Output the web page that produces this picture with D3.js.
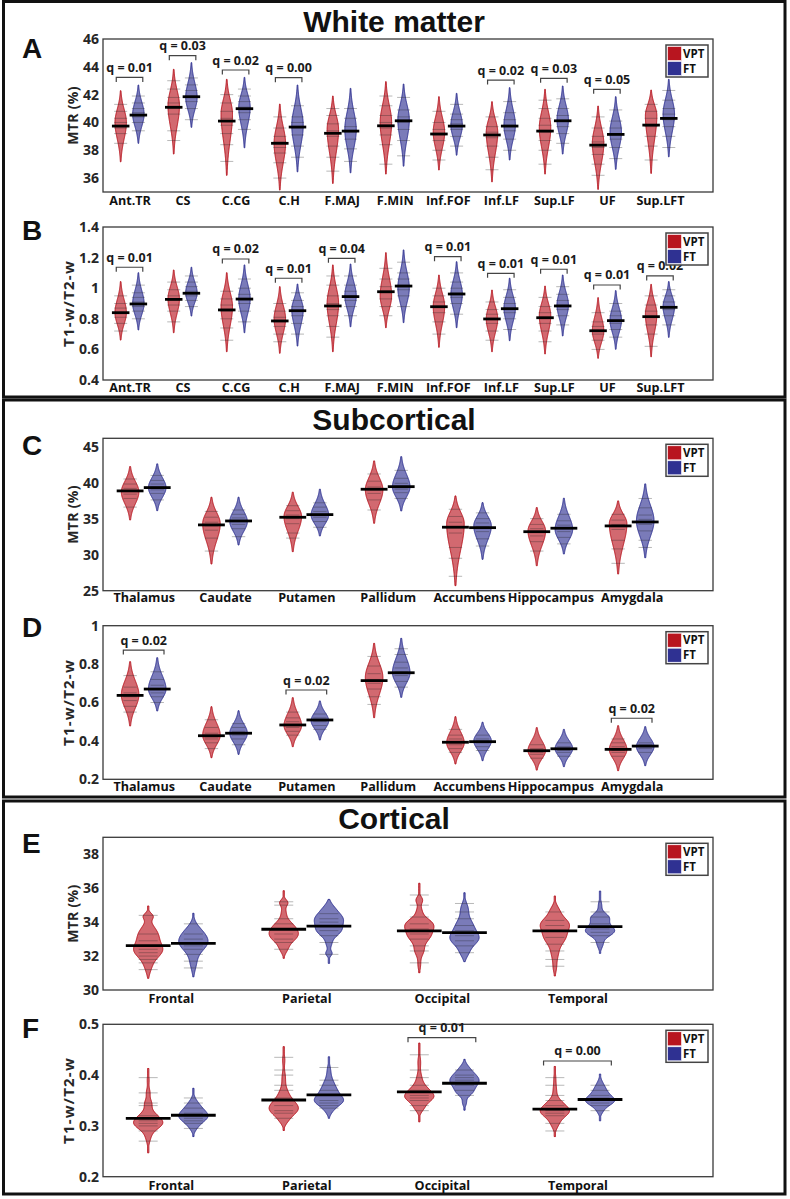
<!DOCTYPE html>
<html><head><meta charset="utf-8">
<script src="https://cdn.jsdelivr.net/npm/d3@7"></script>
<style>body{margin:0;background:#fff}</style>
</head><body>
<svg id="c" width="790" height="1199"></svg>
<script>
// ---------------- DATA ----------------
const wmCategories = ['Ant.TR','CS','C.CG','C.H','F.MAJ','F.MIN','Inf.FOF','Inf.LF','Sup.LF','UF','Sup.LFT'];
const subCategories = ['Thalamus','Caudate','Putamen','Pallidum','Accumbens','Hippocampus','Amygdala'];
const ctxCategories = ['Frontal','Parietal','Occipital','Temporal'];
const groups = ['VPT','FT'];

// Panel A: white matter MTR (%)
const wmMtrVptMean = [39.74,41.09,40.10,38.50,39.22,39.76,39.17,39.10,39.38,38.37,39.81];
const wmMtrFtMean  = [40.53,41.85,40.99,39.67,39.38,40.12,39.74,39.74,40.12,39.14,40.29];
const wmMtrVptRange = [[37.17,40.0,42.28],[37.73,41.2,43.82],[36.2,40.6,43.1],[35.14,38.5,41.32],[35.62,39.5,41.9],[36.29,40.0,42.93],[36.58,39.3,41.85],[35.73,39.3,41.49],[36.29,39.6,42.38],[35.19,38.5,41.18],[36.34,40.5,42.33]];
const wmMtrFtRange  = [[38.5,40.6,42.69],[39.65,41.8,44.3],[38.18,41.1,43.24],[36.45,39.8,42.69],[36.38,39.5,42.45],[36.86,40.2,42.76],[37.65,39.8,42.09],[37.3,39.8,42.5],[37.73,40.2,42.62],[36.63,39.3,41.85],[37.53,40.6,43.1]];
const wmMtrVptBeans = [[38.5,39.2,39.6,40.0,40.3,40.8,41.3],[38.7,39.4,40.6,41.0,41.4,41.8,42.4,43.0],[37.2,38.4,39.2,39.8,40.3,40.8,41.4,42.0],[36.0,37.1,37.8,38.2,38.6,39.0,39.6,40.4],[36.5,37.5,38.3,39.0,39.4,39.9,40.5,41.0],[37.0,38.4,39.1,39.6,40.0,40.5,41.2,41.9],[37.3,38.0,38.7,39.1,39.5,40.0,40.8],[36.6,37.5,38.3,38.9,39.3,39.7,40.4],[37.0,38.0,38.7,39.3,39.8,40.3,41.0,41.6],[36.2,37.0,37.7,38.2,38.6,39.0,39.6,40.4],[37.3,38.3,39.0,39.7,40.3,40.8,41.3]];
const wmMtrFtBeans  = [[39.4,40.0,40.4,40.7,41.0,41.4,41.9],[40.2,41.0,41.5,41.9,42.3,42.7,43.2],[39.5,40.2,40.7,41.1,41.5,41.9,42.4],[37.5,38.3,39.1,39.6,40.0,40.4,41.2],[37.2,38.1,38.8,39.3,39.7,40.3,41.0],[37.6,38.7,39.5,40.0,40.4,40.9,41.8],[38.3,39.0,39.5,39.9,40.2,40.6,41.3],[38.0,38.8,39.4,39.8,40.2,40.7,41.5],[38.5,39.2,39.7,40.1,40.5,41.0,41.7],[37.4,38.2,38.8,39.2,39.6,40.1,40.9],[38.2,39.0,39.7,40.2,40.6,41.0,41.6,42.3]];
const wmMtrQ      = ['0.01','0.03','0.02','0.00',null,null,null,'0.02','0.03','0.05',null];
const wmMtrQLevel = [43.24,44.8,43.77,43.22,null,null,null,43.05,43.17,42.38,null];

// Panel B: white matter T1-w/T2-w
const wmT1VptMean = [0.84,0.927,0.858,0.786,0.884,0.977,0.879,0.799,0.807,0.722,0.814];
const wmT1FtMean  = [0.897,0.967,0.929,0.853,0.945,1.014,0.962,0.866,0.884,0.788,0.875];
const wmT1VptRange = [[0.661,0.84,1.043],[0.709,0.93,1.119],[0.585,0.88,1.101],[0.575,0.8,1.01],[0.585,0.9,1.152],[0.742,0.95,1.232],[0.614,0.88,1.086],[0.585,0.8,0.988],[0.57,0.82,1.014],[0.542,0.72,0.938],[0.552,0.83,1.025]];
const wmT1FtRange  = [[0.727,0.9,1.101],[0.818,0.97,1.137],[0.709,0.93,1.152],[0.622,0.86,1.027],[0.748,0.95,1.158],[0.775,1.0,1.25],[0.742,0.96,1.173],[0.657,0.87,1.065],[0.688,0.89,1.086],[0.601,0.79,0.984],[0.679,0.88,1.043]];
const wmT1VptBeans = [[0.72,0.77,0.81,0.84,0.87,0.9,0.95],[0.78,0.85,0.89,0.92,0.95,0.99,1.04],[0.66,0.74,0.8,0.85,0.89,0.93,0.98],[0.65,0.7,0.75,0.78,0.81,0.85,0.9],[0.68,0.75,0.82,0.86,0.9,0.95,1.02,1.08],[0.82,0.88,0.93,0.97,1.01,1.06,1.13],[0.7,0.78,0.84,0.88,0.91,0.95,1.0],[0.66,0.72,0.77,0.8,0.83,0.86,0.91],[0.65,0.72,0.77,0.81,0.84,0.88,0.94],[0.6,0.66,0.7,0.72,0.75,0.78,0.84],[0.62,0.7,0.76,0.81,0.85,0.89,0.95]];
const wmT1FtBeans  = [[0.8,0.85,0.88,0.91,0.94,0.97,1.02],[0.88,0.92,0.95,0.98,1.01,1.04,1.08],[0.78,0.85,0.9,0.93,0.96,1.0,1.06],[0.7,0.77,0.82,0.85,0.88,0.92,0.97],[0.82,0.88,0.92,0.95,0.98,1.02,1.08],[0.88,0.95,0.99,1.02,1.06,1.1,1.17],[0.83,0.9,0.94,0.97,1.0,1.04,1.1],[0.73,0.8,0.84,0.87,0.9,0.94,0.99],[0.76,0.82,0.86,0.89,0.92,0.96,1.01],[0.68,0.73,0.77,0.79,0.82,0.85,0.9],[0.76,0.82,0.86,0.88,0.91,0.95,0.99]];
const wmT1Q      = ['0.01',null,'0.02','0.01','0.04',null,'0.01','0.01','0.01','0.01','0.02'];
const wmT1QLevel = [1.137,null,1.191,1.065,1.195,null,1.206,1.097,1.124,1.021,1.08];

// Panel C: subcortical MTR (%)
const subMtrVptMean = [38.85,34.13,35.19,39.08,33.81,33.19,33.99];
const subMtrFtMean  = [39.31,34.68,35.56,39.44,33.75,33.67,34.54];
const subMtrVptRange = [[34.82,38.7,42.22],[28.71,34.3,37.97],[30.42,35.3,38.67],[34.36,39.0,43.01],[25.7,34.3,38.15],[28.47,33.3,36.53],[27.32,34.3,37.46]];
const subMtrFtRange  = [[36.11,39.3,42.6],[31.35,34.6,37.97],[32.6,35.5,39.08],[36.07,39.4,43.6],[29.36,34.0,37.22],[30.1,33.5,37.83],[29.58,34.7,39.82]];
const subMtrVptBeans = [[36.6,37.8,38.4,38.8,39.2,39.8,40.5],[30.5,32.3,33.4,34.0,34.5,35.2,36.0],[32.3,33.0,34.3,35.0,35.5,36.1,36.8],[36.2,37.6,38.5,39.0,39.4,40.2,41.2],[27.0,29.5,31.0,33.0,33.8,34.5,35.3,36.3],[30.5,31.8,32.6,33.2,33.6,34.2,35.0],[28.8,30.8,32.0,33.5,34.2,34.8,35.6]];
const subMtrFtBeans  = [[37.6,38.5,39.0,39.4,39.8,40.3,41.0],[32.5,33.6,34.2,34.7,35.1,35.6,36.2],[33.8,34.6,35.2,35.6,36.0,36.6,37.2],[37.8,38.6,39.1,39.5,39.9,40.6,41.7],[31.2,32.2,33.2,33.9,34.4,35.0,35.8],[31.5,32.4,33.2,33.7,34.1,34.7,35.6],[31.0,32.0,33.3,34.2,34.9,35.5,36.5,37.8]];

// Panel D: subcortical T1-w/T2-w
const subT1VptMean = [0.637,0.427,0.483,0.714,0.393,0.349,0.356];
const subT1FtMean  = [0.67,0.44,0.509,0.755,0.396,0.359,0.373];
const subT1VptRange = [[0.478,0.64,0.8125],[0.3125,0.43,0.578],[0.37,0.48,0.625],[0.521,0.73,0.908],[0.28,0.39,0.526],[0.248,0.35,0.469],[0.245,0.355,0.479]];
const subT1FtRange  = [[0.556,0.67,0.833],[0.33,0.44,0.557],[0.405,0.505,0.608],[0.627,0.755,0.934],[0.297,0.4,0.497],[0.266,0.36,0.46],[0.271,0.37,0.474]];
const subT1VptBeans = [[0.55,0.58,0.61,0.63,0.65,0.68,0.74],[0.36,0.39,0.41,0.42,0.44,0.47,0.51],[0.43,0.45,0.47,0.48,0.5,0.52,0.55],[0.59,0.63,0.67,0.7,0.72,0.75,0.79,0.84],[0.34,0.36,0.38,0.39,0.41,0.43,0.46],[0.31,0.33,0.34,0.35,0.36,0.38],[0.32,0.34,0.35,0.36,0.37,0.39,0.41]];
const subT1FtBeans  = [[0.6,0.63,0.65,0.67,0.69,0.72,0.76],[0.38,0.41,0.43,0.44,0.45,0.47,0.49],[0.46,0.48,0.5,0.51,0.52,0.54],[0.68,0.71,0.74,0.76,0.78,0.81,0.85,0.88],[0.35,0.37,0.39,0.4,0.41,0.43],[0.32,0.34,0.35,0.36,0.37,0.39],[0.34,0.36,0.37,0.38,0.39]];
const subT1Q      = ['0.02',null,'0.02',null,null,null,'0.02'];
const subT1QLevel = [0.873,null,0.665,null,null,null,0.518];

// Panel E: cortical MTR (%)  (shape = density bumps [centre, spread, weight])
const ctxMtrVptMean = [32.61,33.58,33.48,33.48];
const ctxMtrFtMean  = [32.75,33.77,33.38,33.73];
const ctxMtrVptRange = [[30.69,34.95],[31.87,35.85],[31.02,36.29],[30.83,35.54]];
const ctxMtrFtRange  = [[30.78,34.52],[31.57,35.34],[31.67,35.73],[32.16,35.83]];
const ctxMtrVptShape = [
  [[32.35,0.45,1],[33.2,0.4,0.45],[33.6,0.45,0.25],[31.4,0.4,0.2],[34.35,0.18,0.3]],
  [[33.2,0.4,1],[33.8,0.35,0.5],[35.15,0.18,0.3],[34.6,0.3,0.15],[32.4,0.25,0.2]],
  [[33.9,0.35,0.9],[33.2,0.4,0.8],[35.3,0.2,0.25],[32.3,0.3,0.3],[34.7,0.25,0.15],[31.5,0.3,0.1]],
  [[33.9,0.4,1],[33.1,0.4,0.7],[34.7,0.3,0.25],[32.2,0.45,0.25],[31.3,0.3,0.1]]];
const ctxMtrFtShape = [
  [[32.8,0.5,1],[33.5,0.4,0.3],[31.6,0.45,0.2]],
  [[34.2,0.35,0.9],[33.5,0.35,0.8],[34.8,0.3,0.3],[32.15,0.15,0.22],[32.7,0.25,0.15]],
  [[33.0,0.4,1],[33.8,0.45,0.6],[34.8,0.35,0.25],[32.2,0.3,0.25]],
  [[33.45,0.3,1],[34.3,0.25,0.55],[33.9,0.3,0.3],[35.0,0.25,0.12],[32.7,0.25,0.2]]];
const ctxMtrVptBeans = [[31.2,31.6,31.8,32.0,32.2,32.4,32.6,32.9,33.3,34.4],[32.4,32.8,33.0,33.3,33.6,33.9,34.2,35.0,35.2],[31.6,32.3,32.6,33.0,33.3,33.6,33.9,34.3,35.0,35.6],[31.4,31.8,32.3,32.7,33.1,33.5,33.8,34.1,34.6]];
const ctxMtrFtBeans  = [[31.3,31.7,32.1,32.4,32.6,32.8,33.0,33.3,33.9],[32.1,32.8,33.2,33.5,33.8,34.0,34.2,34.5],[32.2,32.6,32.9,33.2,33.5,33.8,34.2,34.6,35.1],[32.8,33.2,33.4,33.6,33.9,34.3,34.6,35.2]];

// Panel F: cortical T1-w/T2-w
const ctxT1VptMean = [0.315,0.351,0.367,0.333];
const ctxT1FtMean  = [0.321,0.361,0.384,0.352];
const ctxT1VptRange = [[0.247,0.413],[0.291,0.456],[0.308,0.463],[0.279,0.417]];
const ctxT1FtRange  = [[0.279,0.374],[0.315,0.436],[0.331,0.431],[0.31,0.402]];
const ctxT1VptShape = [
  [[0.304,0.011,1],[0.32,0.012,0.5],[0.345,0.008,0.25],[0.365,0.008,0.15],[0.28,0.012,0.2],[0.39,0.01,0.08]],
  [[0.33,0.012,1],[0.345,0.012,0.6],[0.365,0.012,0.3],[0.395,0.012,0.15],[0.43,0.01,0.1],[0.31,0.008,0.2]],
  [[0.357,0.011,1],[0.375,0.01,0.35],[0.395,0.01,0.15],[0.425,0.012,0.1],[0.335,0.008,0.25]],
  [[0.328,0.011,1],[0.345,0.01,0.35],[0.37,0.012,0.12],[0.305,0.01,0.25],[0.395,0.01,0.06]]];
const ctxT1FtShape = [
  [[0.316,0.011,1],[0.33,0.012,0.6],[0.345,0.01,0.2],[0.297,0.008,0.2]],
  [[0.348,0.01,1],[0.365,0.012,0.6],[0.385,0.012,0.3],[0.41,0.01,0.12],[0.33,0.008,0.2]],
  [[0.385,0.013,1],[0.4,0.012,0.5],[0.365,0.008,0.4],[0.415,0.008,0.15],[0.345,0.006,0.15]],
  [[0.348,0.009,1],[0.362,0.012,0.6],[0.38,0.01,0.2],[0.33,0.007,0.2]]];
const ctxT1VptBeans = [[0.27,0.29,0.3,0.305,0.31,0.32,0.34,0.345,0.365,0.395],[0.315,0.325,0.33,0.34,0.355,0.37,0.38,0.4,0.41,0.435],[0.33,0.34,0.35,0.355,0.36,0.37,0.38,0.395,0.41,0.44],[0.29,0.305,0.32,0.325,0.33,0.34,0.35,0.36,0.38,0.395]];
const ctxT1FtBeans  = [[0.295,0.305,0.31,0.315,0.32,0.325,0.335,0.345,0.355],[0.335,0.34,0.345,0.35,0.36,0.37,0.38,0.39,0.415],[0.36,0.37,0.38,0.385,0.39,0.395,0.4,0.41],[0.33,0.34,0.345,0.35,0.355,0.36,0.37,0.38]];
const ctxT1Q      = [null,null,'0.01','0.00'];
const ctxT1QLevel = [null,null,0.4736,0.4278];

// ---------------- LAYOUT / STYLE ----------------
const colors = {VPT:'#b8151f', FT:'#2f3192'};
const FONT = "'Open Sans', 'DejaVu Sans', sans-serif";
const sections = [
  {title:'White matter', y:1.5, h:395.5, ty:32},
  {title:'Subcortical', y:400, h:397, ty:429.5},
  {title:'Cortical', y:801, h:393, ty:828.5}
];
const panels = [
  {letter:'A', ly:58, top:39, bottom:192, domain:[35,46], ticks:[36,38,40,42,44,46], ylabel:'MTR (%)', cats:wmCategories,
   mean:[wmMtrVptMean,wmMtrFtMean], range:[wmMtrVptRange,wmMtrFtRange], beans:[wmMtrVptBeans,wmMtrFtBeans], q:wmMtrQ, qLevel:wmMtrQLevel, beanHalf:6.5, labDy:13},
  {letter:'B', ly:240, top:227, bottom:380, domain:[0.4,1.4], ticks:[0.4,0.6,0.8,1,1.2,1.4], ylabel:'T1-w/T2-w', cats:wmCategories,
   mean:[wmT1VptMean,wmT1FtMean], range:[wmT1VptRange,wmT1FtRange], beans:[wmT1VptBeans,wmT1FtBeans], q:wmT1Q, qLevel:wmT1QLevel, beanHalf:6.5, labDy:11.5},
  {letter:'C', ly:455, top:438.3, bottom:590.7, domain:[25,46.15], ticks:[25,30,35,40,45], ylabel:'MTR (%)', cats:subCategories,
   mean:[subMtrVptMean,subMtrFtMean], range:[subMtrVptRange,subMtrFtRange], beans:[subMtrVptBeans,subMtrFtBeans], beanHalf:6.7, labDy:11.5},
  {letter:'D', ly:637, top:625.7, bottom:779.3, domain:[0.2,1], ticks:[0.2,0.4,0.6,0.8,1], ylabel:'T1-w/T2-w', cats:subCategories,
   mean:[subT1VptMean,subT1FtMean], range:[subT1VptRange,subT1FtRange], beans:[subT1VptBeans,subT1FtBeans], q:subT1Q, qLevel:subT1QLevel, beanHalf:6.7, labDy:11.5},
  {letter:'E', ly:853, top:837.3, bottom:990, domain:[30,39], ticks:[30,32,34,36,38], ylabel:'MTR (%)', cats:ctxCategories,
   mean:[ctxMtrVptMean,ctxMtrFtMean], range:[ctxMtrVptRange,ctxMtrFtRange], shape:[ctxMtrVptShape,ctxMtrFtShape], beans:[ctxMtrVptBeans,ctxMtrFtBeans], beanHalf:9.5, labDy:12.5},
  {letter:'F', ly:1038, top:1024.3, bottom:1176.7, domain:[0.2,0.5], ticks:[0.2,0.3,0.4,0.5], ylabel:'T1-w/T2-w', cats:ctxCategories,
   mean:[ctxT1VptMean,ctxT1FtMean], range:[ctxT1VptRange,ctxT1FtRange], shape:[ctxT1VptShape,ctxT1FtShape], beans:[ctxT1VptBeans,ctxT1FtBeans], q:ctxT1Q, qLevel:ctxT1QLevel, beanHalf:9.5, labDy:13}
];

const svg = d3.select('#c');
svg.append('rect').attr('width',790).attr('height',1199).attr('fill','#fff');

// section boxes + titles
sections.forEach(s => {
  svg.append('rect').attr('x',3.5).attr('y',s.y).attr('width',781.5).attr('height',s.h)
    .attr('fill','none').attr('stroke','#111').attr('stroke-width',3);
  svg.append('text').attr('x',394).attr('y',s.ty).attr('text-anchor','middle')
    .style('font-family',"'Liberation Sans', Arial, sans-serif").style('font-weight','bold').style('font-size','30px')
    .attr('fill','#111').text(s.title);
});

function shapeFn(range, mix){
  if (mix) return v => d3.sum(mix, c => c[2]*Math.exp(-0.5*Math.pow((v-c[0])/c[1],2)));
  const lo=range[0], mode=range[1], hi=range[2];
  const sl=(mode-lo)/2.4, sh=(hi-mode)/2.4;
  return v => Math.exp(-0.5*Math.pow((v-mode)/(v<mode?sl:sh),2));
}

panels.forEach(p => {
  const n = p.cats.length;
  const x = d3.scaleLinear().domain([0.5, n+1]).range([103,713]);
  const y = d3.scaleLinear().domain(p.domain).range([p.bottom, p.top]);
  const u = x(1)-x(0);
  const g = svg.append('g');

  // frame
  g.append('rect').attr('x',103).attr('y',p.top).attr('width',610).attr('height',p.bottom-p.top)
    .attr('fill','#fff').attr('stroke','#3a3a3a').attr('stroke-width',1.3);

  // y axis labels
  const ya = g.append('g').attr('transform','translate(103,0)')
    .call(d3.axisLeft(y).tickValues(p.ticks).tickSize(0).tickPadding(4).tickFormat(d => String(d)));
  ya.select('.domain').remove();
  ya.selectAll('text').style('font-family',FONT).style('font-size','14px').style('font-weight','bold').attr('fill','#262626');

  // x axis labels
  const xa = g.append('g').attr('transform',`translate(0,${p.bottom})`)
    .call(d3.axisBottom(x).tickValues(d3.range(1,n+1)).tickSize(0).tickFormat(i => p.cats[i-1]));
  xa.select('.domain').remove();
  xa.selectAll('text').attr('y',p.labDy).attr('dy',0)
    .style('font-family',FONT).style('font-size','12.6px').style('font-weight','bold').attr('fill','#111');

  // y title
  const isMtr = p.ylabel === 'MTR (%)';
  g.append('text').attr('transform',`translate(${isMtr?73:69},${(p.top+p.bottom)/2}) rotate(-90)`)
    .attr('text-anchor','middle').attr('dy','0.35em')
    .style('font-family',FONT).style('font-size', isMtr?'14px':'15px').style('font-weight','bold')
    .style('letter-spacing', isMtr?'0.3px':'1.2px')
    .attr('fill','#262626').text(p.ylabel);

  // panel letter
  svg.append('text').attr('x',22).attr('y',p.ly)
    .style('font-family',"'Liberation Sans', Arial, sans-serif").style('font-weight','bold').style('font-size','28px')
    .attr('fill','#111').text(p.letter);

  const hw = 0.108*u;
  const offs = [-1/6, 1/6];
  const meanLayer = [];
  for (let i=0;i<n;i++){
    groups.forEach((gname, k) => {
      const cx = x(i+1+offs[k]);
      const rng = p.range[k][i];
      const lo = rng[0], hi = rng[rng.length-1];
      const f = shapeFn(rng, p.shape ? p.shape[k][i] : null);
      const vals = d3.range(121).map(j => lo + (hi-lo)*j/120);
      const fm = d3.max(vals, f);
      const wf = v => hw*Math.max(f(v)/fm, 0.045);
      const area = d3.area().y(v => y(v)).x0(v => cx - wf(v)).x1(v => cx + wf(v)).curve(d3.curveCatmullRom);
      g.append('path').datum(vals).attr('d',area)
        .attr('fill',colors[gname]).attr('fill-opacity',0.64)
        .attr('stroke',colors[gname]).attr('stroke-width',1).attr('stroke-linejoin','round');
      g.selectAll(null).data(p.beans[k][i]).enter().append('line')
        .attr('x1',cx-p.beanHalf).attr('x2',cx+p.beanHalf)
        .attr('y1',d=>y(d)).attr('y2',d=>y(d))
        .attr('stroke','#222').attr('stroke-opacity',0.32).attr('stroke-width',1);
      meanLayer.push({cx, v:p.mean[k][i]});
    });
  }
  g.selectAll(null).data(meanLayer).enter().append('line')
    .attr('x1',d=>d.cx-0.165*u).attr('x2',d=>d.cx+0.165*u)
    .attr('y1',d=>y(d.v)).attr('y2',d=>y(d.v))
    .attr('stroke','#000').attr('stroke-width',2.8);

  // q brackets
  if (p.q){
    p.q.forEach((q,i) => {
      if (!q) return;
      const cx = x(i+1), yb = y(p.qLevel[i]);
      const xl = x(i+1-0.25), xr = x(i+1+0.25);
      g.append('path').attr('d',`M${xl},${yb+4.5}V${yb}H${xr}V${yb+4.5}`)
        .attr('fill','none').attr('stroke','#444').attr('stroke-width',1.2);
      g.append('text').attr('x',cx).attr('y',yb-5.5).attr('text-anchor','middle')
        .style('font-family',FONT).style('font-size','12.5px').style('font-weight','bold')
        .attr('fill','#1a1a1a').text('q = ' + q);
    });
  }

  // legend
  const lg = g.append('g').attr('transform',`translate(666,${p.top+6})`);
  lg.append('rect').attr('width',42).attr('height',32).attr('fill','#fff').attr('stroke','#444').attr('stroke-width',1.5);
  groups.forEach((gname,k) => {
    lg.append('rect').attr('x',1.5).attr('y',1.5+k*15).attr('width',14).attr('height',14)
      .attr('fill',colors[gname]).attr('stroke','#fff').attr('stroke-width',0.6);
    lg.append('text').attr('x',17).attr('y',12.5+k*15)
      .style('font-family',FONT).style('font-size','11.5px').style('font-weight','bold')
      .attr('fill','#111').text(gname);
  });
});
</script>
</body></html>
